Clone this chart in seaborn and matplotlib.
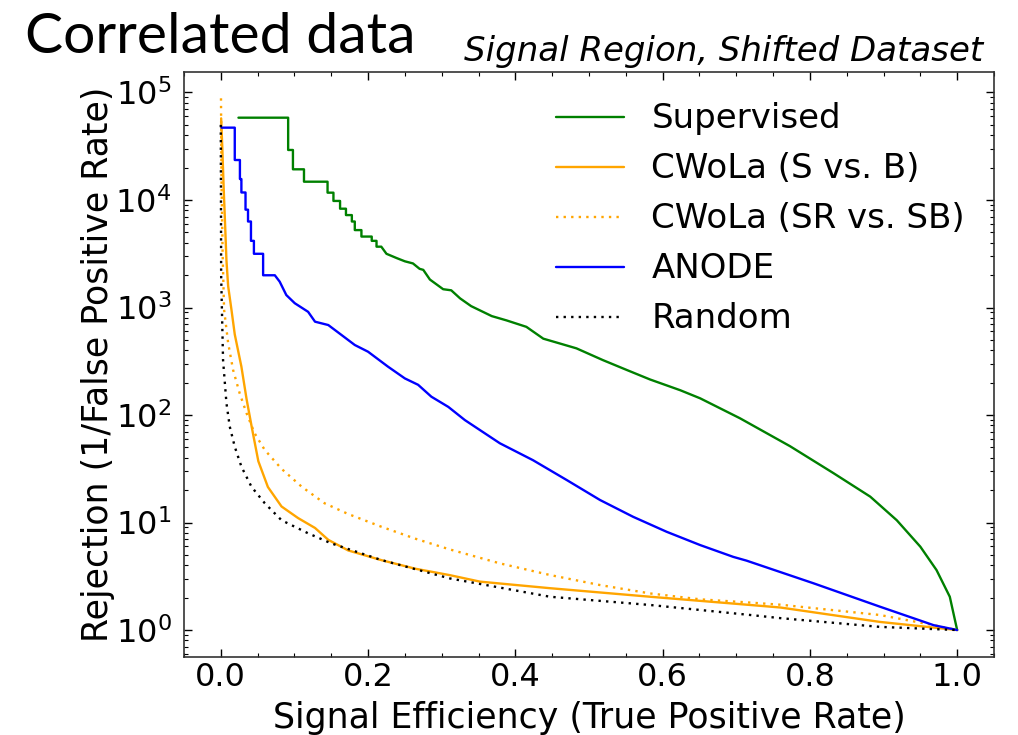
import matplotlib
matplotlib.use("Agg")
import matplotlib.pyplot as plt
import seaborn as sns
from matplotlib.ticker import MultipleLocator, LogLocator

# ROC-style curves: signal efficiency vs. background rejection
sup_eff = [0.024, 0.0915, 0.0915, 0.098, 0.098, 0.113, 0.113, 0.145, 0.145, 0.153,
           0.153, 0.162, 0.162, 0.170, 0.170, 0.178, 0.178, 0.182, 0.182, 0.191,
           0.191, 0.205, 0.205, 0.2115, 0.2115, 0.218, 0.225, 0.239, 0.250, 0.261,
           0.270, 0.275, 0.284, 0.302, 0.313, 0.325, 0.340, 0.368, 0.388, 0.415,
           0.438, 0.458, 0.483, 0.519, 0.551, 0.583, 0.624, 0.651, 0.705, 0.773,
           0.832, 0.882, 0.918, 0.950, 0.972, 0.990, 1.0]
sup_rej = [58300, 58300, 29200, 29200, 19300, 19300, 14800, 14800, 11700, 11700,
           9800, 9800, 8300, 8300, 7240, 7240, 6310, 6310, 5250, 5250,
           4570, 4570, 4170, 4170, 3680, 3680, 3160, 2880, 2690, 2570,
           2290, 2240, 1820, 1480, 1445, 1216, 1030, 832, 759, 661,
           513, 468, 417, 324, 263, 214, 170, 143, 93.3, 51.3,
           28.8, 17.4, 10.5, 5.96, 3.61, 2.04, 1.0]

cws_eff = [0.0005, 0.002, 0.004, 0.006, 0.0077, 0.010, 0.0145, 0.019, 0.028, 0.035,
           0.042, 0.051, 0.064, 0.0825, 0.105, 0.128, 0.146, 0.173, 0.218, 0.264,
           0.311, 0.352, 0.447, 0.583, 0.719, 0.760, 0.895, 1.0]
cws_rej = [57500, 31600, 12600, 5620, 2750, 1585, 955, 562, 282, 141,
           77.6, 37.2, 21.4, 14.1, 11.0, 8.9, 6.9, 5.5, 4.47, 3.72,
           3.24, 2.82, 2.45, 2.04, 1.71, 1.62, 1.19, 1.0]

cwsb_eff = [0.0003, 0.001, 0.0025, 0.0045, 0.010, 0.0167, 0.0258, 0.035, 0.046, 0.0598,
            0.0825, 0.110, 0.141, 0.173, 0.218, 0.264, 0.311, 0.379, 0.447, 0.515,
            0.583, 0.651, 0.719, 0.760, 0.895, 0.968, 1.0]
cwsb_rej = [88300, 15850, 3160, 955, 468, 263, 158, 104, 67.6, 47.2,
            31.6, 21.5, 15.1, 12.0, 9.14, 7.08, 5.62, 4.17, 3.25, 2.62,
            2.19, 1.93, 1.80, 1.72, 1.38, 1.11, 1.0]

anode_eff = [0.001, 0.019, 0.019, 0.026, 0.026, 0.028, 0.028, 0.0336, 0.0336, 0.037,
             0.037, 0.041, 0.041, 0.045, 0.045, 0.0575, 0.0575, 0.0734, 0.080, 0.089,
             0.1005, 0.1186, 0.128, 0.146, 0.164, 0.182, 0.200, 0.227, 0.250, 0.268,
             0.286, 0.309, 0.3315, 0.379, 0.424, 0.470, 0.515, 0.560, 0.6055, 0.651,
             0.696, 0.714, 0.805, 0.895, 0.968, 1.0]
anode_rej = [47100, 47100, 23550, 23550, 15670, 15670, 11750, 11750, 8130, 8130,
             6310, 6310, 4170, 4170, 3160, 3160, 1995, 1995, 1740, 1306,
             1096, 912, 738, 687, 555, 448, 388, 282, 219, 191,
             148, 119, 89.7, 54.6, 38.0, 24.8, 16.2, 11.3, 8.2, 6.17,
             4.79, 4.42, 2.72, 1.65, 1.11, 1.0]

rand_eff = [0.00002, 0.0005, 0.0031, 0.0077, 0.0122, 0.019, 0.028, 0.0417, 0.0598, 0.0825,
            0.1186, 0.150, 0.218, 0.311, 0.447, 0.583, 0.719, 0.760, 0.895, 1.0]
rand_rej = [50000, 2000, 324, 129, 78, 50.7, 33.1, 21.5, 15.1, 10.5,
            7.94, 6.4, 4.48, 3.02, 2.04, 1.71, 1.38, 1.29, 1.07, 1.0]

x_ticks = [0.0, 0.2, 0.4, 0.6, 0.8, 1.0]

sns.set_theme(style="ticks")
plt.rcParams["font.family"] = ["DejaVu Sans"]
plt.rcParams["mathtext.fontset"] = "dejavusans"
plt.rcParams["text.color"] = "black"
plt.rcParams["axes.labelcolor"] = "black"

fig = plt.figure(figsize=(10.18, 7.35), dpi=100)
ax = fig.add_axes([0.1807, 0.1061, 0.7957, 0.7963])

lw = 1.7
dot = (0, (1, 2.2))
sns.lineplot(x=sup_eff, y=sup_rej, sort=False, estimator=None, ax=ax,
             color="green", lw=lw, label="Supervised")
sns.lineplot(x=cws_eff, y=cws_rej, sort=False, estimator=None, ax=ax,
             color="orange", lw=lw, label="CWoLa (S vs. B)")
sns.lineplot(x=cwsb_eff, y=cwsb_rej, sort=False, estimator=None, ax=ax,
             color="orange", lw=lw, linestyle=dot, label="CWoLa (SR vs. SB)")
sns.lineplot(x=anode_eff, y=anode_rej, sort=False, estimator=None, ax=ax,
             color="blue", lw=lw, label="ANODE")
sns.lineplot(x=rand_eff, y=rand_rej, sort=False, estimator=None, ax=ax,
             color="black", lw=lw, linestyle=dot, label="Random")

ax.set_yscale("log")
ax.set_xlim(-0.05, 1.05)
ax.set_ylim(0.561, 1.56e5)
ax.set_xticks(x_ticks)
ax.set_xticklabels([f"{t:.1f}" for t in x_ticks])
ax.xaxis.set_minor_locator(MultipleLocator(0.05))
ax.yaxis.set_major_locator(LogLocator(base=10, numticks=10))
ax.yaxis.set_minor_locator(LogLocator(base=10, subs=range(2, 10), numticks=20))

ax.tick_params(which="both", direction="in", top=True, right=True,
               labelsize=23, colors="black")
ax.tick_params(axis="y", which="major", pad=9)
ax.tick_params(which="major", length=6, width=1.0)
ax.tick_params(which="minor", length=3, width=0.8)
for s in ax.spines.values():
    s.set_color("#333333")
    s.set_linewidth(1.2)

ax.set_xlabel("Signal Efficiency (True Positive Rate)", fontsize=25, labelpad=6)
ax.set_ylabel("Rejection (1/False Positive Rate)", fontsize=25, labelpad=0)
ax.annotate("Signal Region, Shifted Dataset", xy=(1, 1), xycoords="axes fraction",
            xytext=(-11, 11), textcoords="offset pixels", ha="right", va="baseline",
            style="italic", fontsize=24.5)

ax.legend(loc="upper right", frameon=False, fontsize=24.5, labelspacing=0.5,
          handlelength=2.0, handletextpad=0.8, borderaxespad=0.45,
          bbox_to_anchor=(1.0, 0.997))

fig.text(25 / 1018, 1 - 53 / 735, "Correlated data", fontsize=41,
         family=["Lato", "DejaVu Sans"], va="baseline", ha="left", color="black")

fig.savefig("out.png", dpi=100)
